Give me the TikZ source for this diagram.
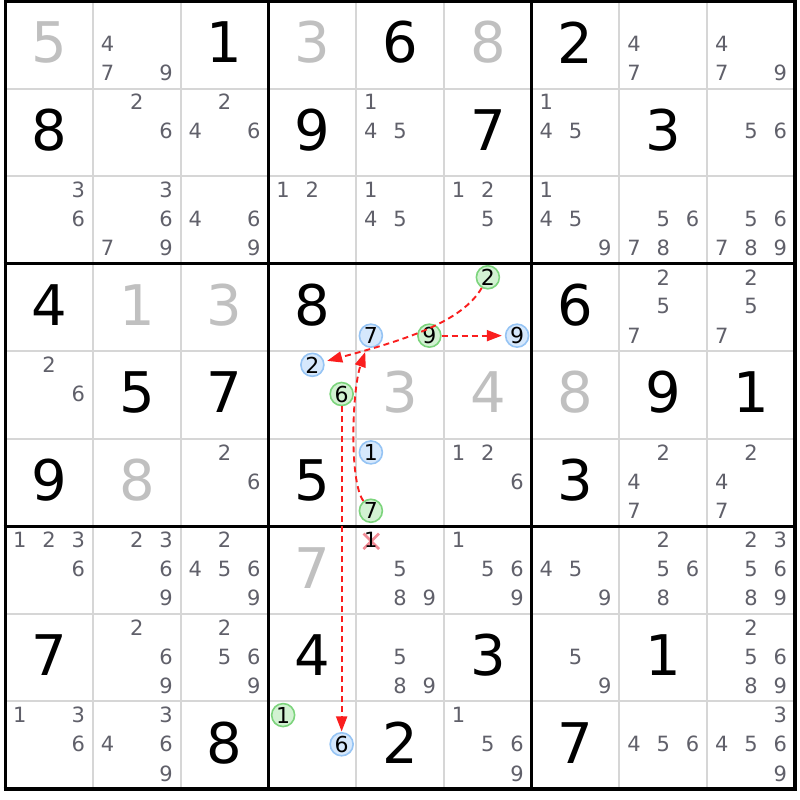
\documentclass[tikz,border=0pt]{standalone}
\usepackage{fontspec}
\setmainfont{DejaVu Sans}
\usetikzlibrary{arrows.meta}
\definecolor{candcol}{RGB}{96,96,106}
\definecolor{givgray}{RGB}{192,192,192}
\definecolor{thingrid}{RGB}{214,214,214}
\definecolor{gfill}{RGB}{210,242,210}
\definecolor{gline}{RGB}{124,212,124}
\definecolor{bfill}{RGB}{214,232,252}
\definecolor{bline}{RGB}{150,196,244}
\definecolor{linkred}{RGB}{250,30,30}
\definecolor{xpink}{RGB}{242,140,150}
\newcommand\cellW{87.74}
\newcommand\cellH{87.56}
\newcommand\gridX{5.3}
\newcommand\gridY{1.0}
\tikzset{
  bigdigit/.style={font=\fontsize{56}{56}\selectfont, inner sep=0pt, text=black},
  cand/.style={font=\fontsize{21}{21}\selectfont, inner sep=0pt, text=candcol},
  gcirc/.style={circle, minimum size=23pt, fill=gfill, draw=gline, line width=1.6pt, text=black, font=\fontsize{22}{22}\selectfont},
  bcirc/.style={circle, minimum size=23pt, fill=bfill, draw=bline, line width=1.6pt, text=black, font=\fontsize{22}{22}\selectfont},
  thinline/.style={draw=thingrid, line width=2pt},
  thickline/.style={draw=black, line width=3.2pt},
  link/.style={draw=linkred, color=linkred, line width=1.9pt, dash pattern=on 6pt off 4pt,
    -{Triangle[length=15pt,width=11pt]}, shorten >=3pt},
  xmark/.style={draw=xpink, line width=2.6pt}
}
\newcommand\bignum[4]{\node[bigdigit,#4] (v#1#2) at ({\gridX+(#2-0.5)*\cellW},{\gridY+(#1-0.5)*\cellH-2.5}) {#3};}
\newcommand\given[3]{\bignum{#1}{#2}{#3}{}}
\newcommand\clue[3]{\bignum{#1}{#2}{#3}{text=givgray}}
\newcommand\cnode[4]{\node[#1] (k#2#3#4) at ({\gridX+(#3-1)*\cellW+(2*mod(#4-1,3)+1)*\cellW/6},{\gridY+(#2-1)*\cellH+(2*floor((#4-1)/3)+1)*\cellH/6-1}) {#4};}
\newcommand\cands[3]{\foreach \d in {#3}{\cnode{cand}{#1}{#2}{\d}}}
\newcommand\gcand[3]{\cnode{cand,gcirc}{#1}{#2}{#3}}
\newcommand\bcand[3]{\cnode{cand,bcirc}{#1}{#2}{#3}}
\begin{document}
\begin{tikzpicture}[x=1pt,y=-1pt]
\fill[white] (0,0) rectangle (800,800);
\useasboundingbox (0,0) rectangle (800,800);
% grid
\foreach \i in {1,2,4,5,7,8}{
  \draw[thinline] ({\gridX+\i*\cellW},\gridY) -- ({\gridX+\i*\cellW},{\gridY+9*\cellH});
  \draw[thinline] (\gridX,{\gridY+\i*\cellH}) -- ({\gridX+9*\cellW},{\gridY+\i*\cellH});
}
\foreach \i in {0,3,6,9}{
  \draw[thickline] ({\gridX+\i*\cellW},{\gridY-1.6}) -- ({\gridX+\i*\cellW},{\gridY+9*\cellH+1.6});
  \draw[thickline] ({\gridX-1.6},{\gridY+\i*\cellH}) -- ({\gridX+9*\cellW+1.6},{\gridY+\i*\cellH});
}
% big digits
\clue{1}{1}{5} \given{1}{3}{1} \clue{1}{4}{3} \given{1}{5}{6} \clue{1}{6}{8} \given{1}{7}{2}
\given{2}{1}{8} \given{2}{4}{9} \given{2}{6}{7} \given{2}{8}{3}
\given{4}{1}{4} \clue{4}{2}{1} \clue{4}{3}{3} \given{4}{4}{8} \given{4}{7}{6}
\given{5}{2}{5} \given{5}{3}{7} \clue{5}{5}{3} \clue{5}{6}{4} \clue{5}{7}{8} \given{5}{8}{9} \given{5}{9}{1}
\given{6}{1}{9} \clue{6}{2}{8} \given{6}{4}{5} \given{6}{7}{3}
\clue{7}{4}{7}
\given{8}{1}{7} \given{8}{4}{4} \given{8}{6}{3} \given{8}{8}{1}
\given{9}{3}{8} \given{9}{5}{2} \given{9}{7}{7}
% candidates
\cands{1}{2}{4,7,9} \cands{1}{8}{4,7} \cands{1}{9}{4,7,9}
\cands{2}{2}{2,6} \cands{2}{3}{2,4,6} \cands{2}{5}{1,4,5} \cands{2}{7}{1,4,5} \cands{2}{9}{5,6}
\cands{3}{1}{3,6} \cands{3}{2}{3,6,7,9} \cands{3}{3}{4,6,9} \cands{3}{4}{1,2} \cands{3}{5}{1,4,5}
\cands{3}{6}{1,2,5} \cands{3}{7}{1,4,5,9} \cands{3}{8}{5,6,7,8} \cands{3}{9}{5,6,7,8,9}
\cands{4}{8}{2,5,7} \cands{4}{9}{2,5,7}
\cands{5}{1}{2,6}
\cands{6}{3}{2,6} \cands{6}{6}{1,2,6} \cands{6}{8}{2,4,7} \cands{6}{9}{2,4,7}
\cands{7}{1}{1,2,3,6} \cands{7}{2}{2,3,6,9} \cands{7}{3}{2,4,5,6,9} \cands{7}{5}{5,8,9}
\cands{7}{6}{1,5,6,9} \cands{7}{7}{4,5,9} \cands{7}{8}{2,5,6,8} \cands{7}{9}{2,3,5,6,8,9}
\cands{8}{2}{2,6,9} \cands{8}{3}{2,5,6,9} \cands{8}{5}{5,8,9} \cands{8}{7}{5,9} \cands{8}{9}{2,5,6,8,9}
\cands{9}{1}{1,3,6} \cands{9}{2}{3,4,6,9} \cands{9}{6}{1,5,6,9} \cands{9}{8}{4,5,6} \cands{9}{9}{3,4,5,6,9}
% eliminated candidate
\draw[xmark] (363.5,533.5) -- (379,549) (363.5,549) -- (379,533.5);
\cnode{cand,text=black}{7}{5}{1}
% highlighted candidates
\bcand{4}{5}{7} \gcand{4}{5}{9}
\gcand{4}{6}{2} \bcand{4}{6}{9}
\bcand{5}{4}{2} \gcand{5}{4}{6}
\bcand{6}{5}{1} \gcand{6}{5}{7}
\gcand{9}{4}{1} \bcand{9}{4}{6}
% links
\draw[link] (k462) .. controls (462,322) and (405,340) .. (k542);
\draw[link] (k459.east) -- (k469.west);
\draw[link, shorten >=0.5pt] (k546.south) -- (k946.north);
\draw[link, shorten >=5pt] (k657) .. controls (349,482) and (352,390) .. (k457);
\end{tikzpicture}
\end{document}
